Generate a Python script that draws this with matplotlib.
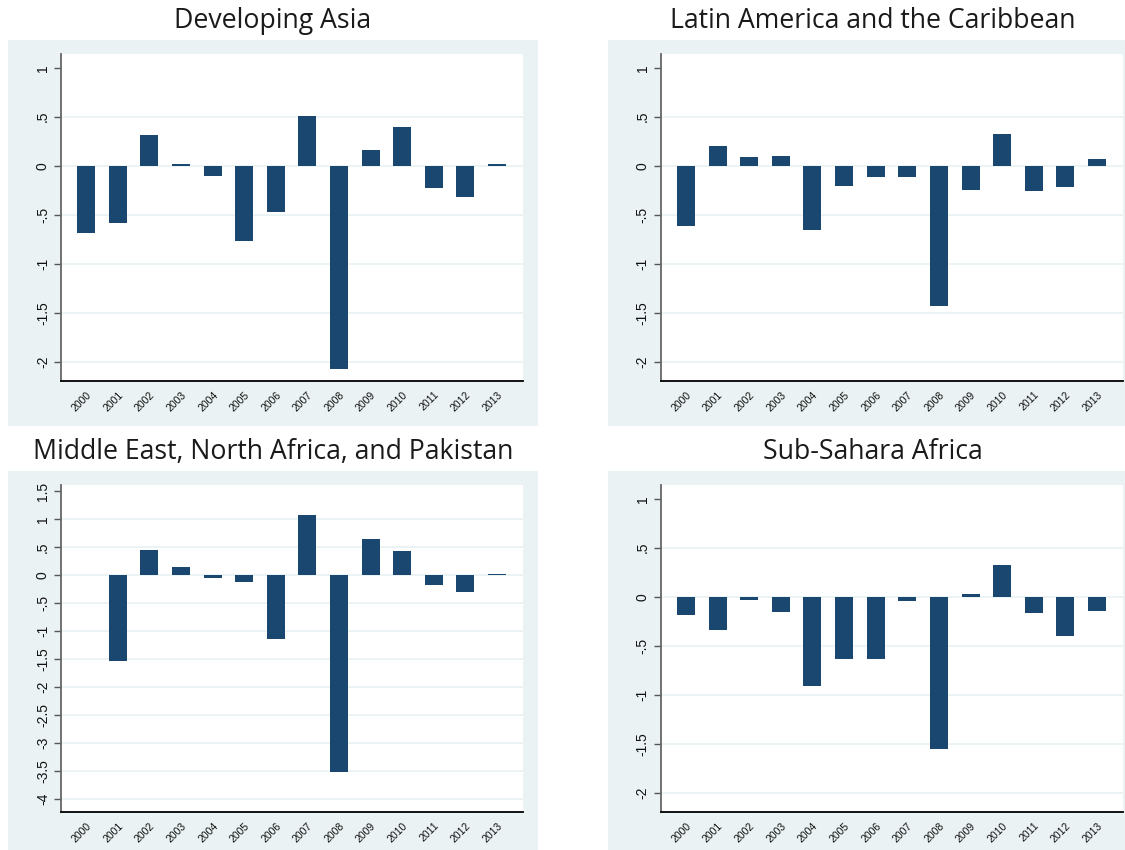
import re
import numpy as np
import matplotlib
matplotlib.use("Agg")
import matplotlib.pyplot as plt
from matplotlib.patches import Rectangle

# ---------------- data ----------------
years = [str(y) for y in range(2000, 2014)]
titles = ["Developing Asia",
          "Latin America and the Caribbean",
          "Middle East, North Africa, and Pakistan",
          "Sub-Sahara Africa"]

developing_asia = [-0.69, -0.585, 0.31, 0.02, -0.11, -0.77, -0.475,
                   0.51, -2.07, 0.16, 0.39, -0.23, -0.32, 0.02]
latin_america = [-0.615, 0.197, 0.087, 0.104, -0.658, -0.207, -0.114,
                 -0.114, -1.43, -0.25, 0.324, -0.26, -0.217, 0.067]
mena_pakistan = [np.nan, -1.54, 0.446, 0.14, -0.05, -0.12, -1.14,
                 1.076, -3.52, 0.636, 0.428, -0.177, -0.31, 0.024]
sub_sahara = [-0.187, -0.34, -0.03, -0.157, -0.915, -0.64, -0.638,
              -0.047, -1.55, 0.027, 0.324, -0.17, -0.397, -0.147]

yticks_std = [1, 0.5, 0, -0.5, -1, -1.5, -2]
yticks_mena = [1.5, 1, 0.5, 0, -0.5, -1, -1.5, -2, -2.5, -3, -3.5, -4]

series = [developing_asia, latin_america, mena_pakistan, sub_sahara]
ticksets = [yticks_std, yticks_std, yticks_mena, yticks_std]
ylims = [(-2.2, 1.14), (-2.2, 1.14), (-4.24, 1.61), (-2.2, 1.14)]

# ---------------- style ----------------
W, H = 1125, 850
BAR = "#1a476f"
BG = "#eaf2f3"
GRID = "#eaf2f3"

fig = plt.figure(figsize=(W / 100, H / 100), dpi=100)
fig.patch.set_facecolor("white")


def fmt(v):
    s = "%g" % v
    return re.sub(r"^(-?)0\.", r"\1.", s)


# panel geometry in pixels: (bg_x0, bg_y0, bg_x1, bg_y1, ax_x0, ax_y0, ax_x1, ax_y1)
panels = [
    (8, 40, 537.7, 426, 61, 54, 523.3, 381.3),
    (607.7, 40, 1137.7, 426, 660.7, 54, 1123.3, 381.3),
    (8, 471, 537.7, 857, 61, 485, 523.3, 812.3),
    (607.7, 471, 1137.7, 857, 660.7, 485, 1123.3, 812.3),
]

x = np.arange(len(years))

for i, (vals, yt, yl, geo) in enumerate(zip(series, ticksets, ylims, panels)):
    bx0, by0, bx1, by1, ax0, ay0, ax1, ay1 = geo
    fig.patches.append(Rectangle((bx0 / W, 1 - by1 / H), (bx1 - bx0) / W, (by1 - by0) / H,
                                 transform=fig.transFigure, facecolor=BG,
                                 edgecolor="none", zorder=-5))
    fig.text((bx0 + bx1) / 2 / W, 1 - (by0 - 19) / H, titles[i],
             ha="center", va="center", fontsize=19.2, family="Open Sans",
             color="#1a1a1a")

    ax = fig.add_axes([ax0 / W, 1 - ay1 / H, (ax1 - ax0) / W, (ay1 - ay0) / H])
    ax.set_zorder(2)
    ax.set_facecolor("white")
    for t in yt[1:]:
        ax.axhline(t, color=GRID, lw=1.3, zorder=0)
    ax.bar(x, vals, width=0.57, color=BAR, edgecolor="none", zorder=2)
    ax.set_xlim(-0.8, 13.83)
    ax.set_ylim(*yl)
    ax.set_yticks(yt)
    ax.set_yticklabels([fmt(t) for t in yt], rotation=90, va="center",
                       fontsize=10, family="Liberation Sans", color="#111111")
    ax.set_xticks(x)
    ax.set_xticklabels(years, rotation=45, ha="right", rotation_mode="anchor",
                       fontsize=7.5, family="Liberation Sans", color="#111111")
    ax.tick_params(axis="x", length=0, pad=6)
    ax.tick_params(axis="y", length=5, width=1, color="#555555", pad=3)
    ax.spines["top"].set_visible(False)
    ax.spines["right"].set_visible(False)
    ax.spines["left"].set_color("#666666")
    ax.spines["left"].set_linewidth(1.3)
    ax.spines["bottom"].set_color("black")
    ax.spines["bottom"].set_linewidth(1.3)

fig.savefig("out.png", dpi=100)
